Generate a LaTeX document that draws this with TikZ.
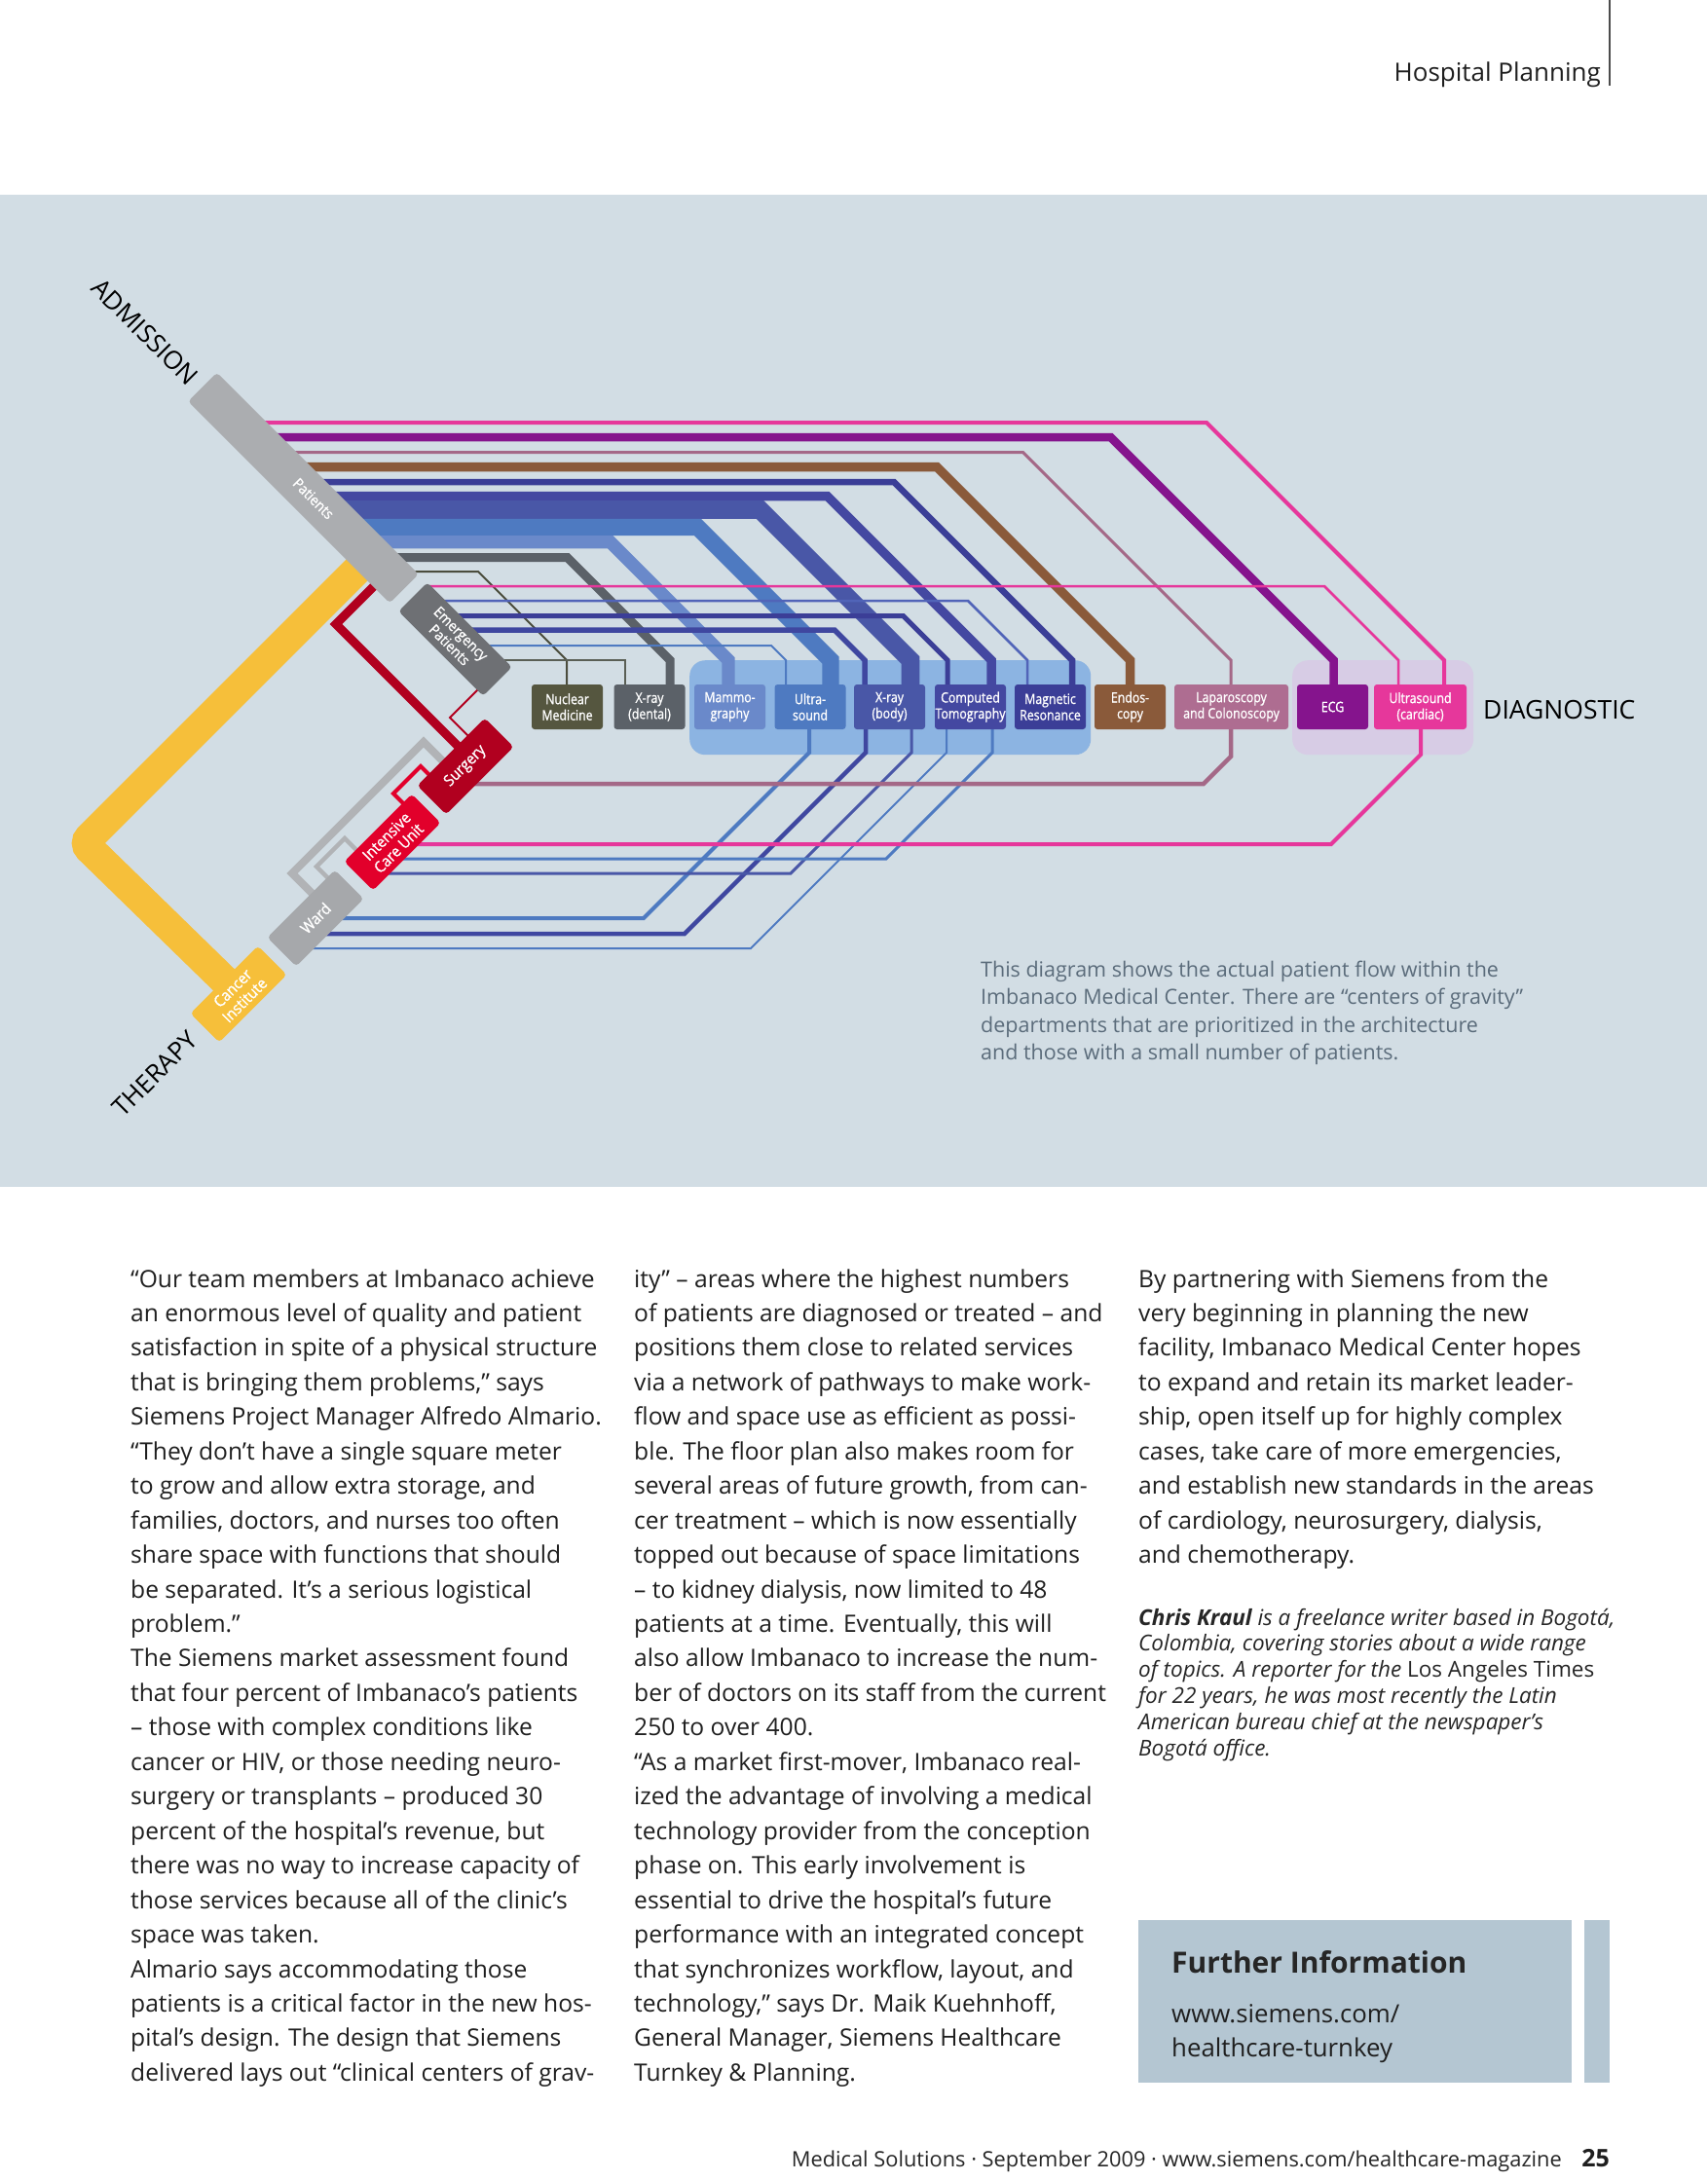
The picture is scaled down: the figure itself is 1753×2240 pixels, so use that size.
\documentclass[tikz,border=0pt]{standalone}
\usepackage{fontspec}
\setmainfont{Open Sans}
\newfontfamily\lblfont[FakeStretch=0.85,FakeBold=1]{Open Sans}
\newfontfamily\rlblfont[FakeStretch=0.92,FakeBold=1]{Open Sans}
\pgfdeclarelayer{back}
\pgfdeclarelayer{lines}
\pgfsetlayers{back,lines,main}
\definecolor{bgband}{HTML}{D2DDE4}
\definecolor{grpblue}{HTML}{8CB4E2}
\definecolor{grppurple}{HTML}{D7CCE5}
\definecolor{cPat}{HTML}{ABADB0}
\definecolor{cEmg}{HTML}{6E7074}
\definecolor{cNuc}{HTML}{55563F}
\definecolor{cNucL}{HTML}{4B4D3D}
\definecolor{cXd}{HTML}{5B6168}
\definecolor{cMam}{HTML}{6A89CA}
\definecolor{cUS}{HTML}{4E7AC1}
\definecolor{cXb}{HTML}{4957A7}
\definecolor{cXbd}{HTML}{3F47A0}
\definecolor{cCT}{HTML}{4448A1}
\definecolor{cMR}{HTML}{3B3E97}
\definecolor{cMRl}{HTML}{5164B8}
\definecolor{cEndo}{HTML}{8A5A3A}
\definecolor{cLap}{HTML}{AE6D91}
\definecolor{cLapL}{HTML}{A46887}
\definecolor{cECG}{HTML}{85148D}
\definecolor{cUSc}{HTML}{E6379B}
\definecolor{cSurg}{HTML}{B1001F}
\definecolor{cICU}{HTML}{E2002B}
\definecolor{cWard}{HTML}{A6A8AB}
\definecolor{cGrayL}{HTML}{B1B3B6}
\definecolor{cYel}{HTML}{F6BF3A}
\definecolor{cInfo}{HTML}{B4C6D2}
\definecolor{cCap}{HTML}{5B6C7B}
\definecolor{cEmL}{HTML}{5A5F55}
% upper flow: color, width, y_h, x_v, target, start x
\newcommand\flowU[6]{\draw[#1,line width=#2] (#6,#3) -- ({#4-678+#3},#3) -- (#4,678) -- (#4,0 |- #5.north);}
% lower flow: color, width, x_v, y_h, source, y_start
\newcommand\flowL[6]{\draw[#1,line width=#2] (#3,0 |- #5.south) -- (#3,#6) -- ({#3-#4+#6},#4) -- ({1280-#4},#4);}
\begin{document}
\begin{tikzpicture}[x=1pt,y=-1pt,
  dbox/.style={rectangle,rounded corners=3pt,minimum height=46pt,inner sep=0pt,text=white,align=center,font=\lblfont\fontsize{14.5}{16.5}\selectfont},
  lbox/.style={rectangle,rounded corners=4pt,minimum height=42pt,minimum width=98pt,inner sep=0pt,text=white,align=center,font=\rlblfont\fontsize{16}{17.5}\selectfont},
  bodytxt/.style={inner sep=0pt,anchor=base west,font=\fontsize{24.6}{29}\selectfont,text=black!88},
  authtxt/.style={inner sep=0pt,anchor=base west,font=\fontsize{22.5}{26}\selectfont\itshape,text=black!85},
  captxt/.style={inner sep=0pt,anchor=base west,font=\fontsize{21.5}{25}\selectfont,text=cCap},
  headtxt/.style={inner sep=0pt,font=\fontsize{26}{30}\selectfont,text=black}]
\useasboundingbox (0,0) rectangle (1753,2240);
\begin{pgfonlayer}{back}
\fill[white] (0,0) rectangle (1753,2240);
\fill[bgband] (0,200) rectangle (1753,1219);
\node[fill=grpblue,rounded corners=16pt,minimum width=412pt,minimum height=97pt,inner sep=0pt,anchor=north west] (gblue) at (708,678) {};
\node[fill=grppurple,rounded corners=16pt,minimum width=186pt,minimum height=97pt,inner sep=0pt,anchor=north west] (gpurp) at (1327,678) {};
\end{pgfonlayer}

% header and footer
\node[inner sep=0pt,anchor=base east,font=\fontsize{26}{30}\selectfont,text=black!88] (hdr) at (1644,84) {Hospital Planning};
\draw[black!70,line width=1.3pt] (1653,0) -- (1653,88);
\node[inner sep=0pt,anchor=base east,font=\fontsize{21.8}{25}\selectfont,text=black!85] (ftr) at (1604,2225) {Medical Solutions · September 2009 · www.siemens.com/healthcare-magazine};
\node[inner sep=0pt,anchor=base east,font=\fontsize{25}{28}\selectfont\bfseries,text=black!88] (pg) at (1653,2225) {25};

% diagnostic boxes
\node[dbox,fill=cNuc,minimum width=73pt] (nuc) at (582.5,726) {Nuclear\\Medicine};
\node[dbox,fill=cXd,minimum width=73pt] (xd) at (667,726) {X-ray\\(dental)};
\node[dbox,fill=cMam,minimum width=73pt] (mam) at (749.5,726) {Mammo-\\graphy};
\node[dbox,fill=cUS,minimum width=73pt] (us) at (832,726) {Ultra-\\sound};
\node[dbox,fill=cXb,minimum width=73pt] (xb) at (913.5,726) {X-ray\\(body)};
\node[dbox,fill=cCT,minimum width=73pt] (ct) at (996.5,726) {Computed\\Tomography};
\node[dbox,fill=cMR,minimum width=73pt] (mr) at (1078.5,726) {Magnetic\\Resonance};
\node[dbox,fill=cEndo,minimum width=73pt] (endo) at (1160.5,726) {Endos-\\copy};
\node[dbox,fill=cLap,minimum width=117pt] (lap) at (1264.5,726) {Laparoscopy\\and Colonoscopy};
\node[dbox,fill=cECG,minimum width=73pt] (ecg) at (1368.5,726) {ECG};
\node[dbox,fill=cUSc,minimum width=95pt] (usc) at (1458.5,726) {Ultrasound\\(cardiac)};
\node[headtxt,anchor=base west,font=\fontsize{26.5}{30}\selectfont] (diag) at (1523,738) {DIAGNOSTIC};

% admission / therapy side
\node[lbox,fill=cPat,minimum width=293pt,rotate=-45] (pat) at (311.5,501) {};
\node[inner sep=0pt,text=white,font=\rlblfont\fontsize{15}{17}\selectfont,rotate=-45] (patlbl) at (322,512) {Patients};
\node[lbox,fill=cEmg,minimum width=123pt,rotate=-45,font=\rlblfont\fontsize{15}{16.5}\selectfont] (emg) at (467.5,656.5) {Emergency\\Patients};
\node[lbox,fill=cSurg,rotate=45] (surg) at (478,787) {Surgery};
\node[lbox,fill=cICU,rotate=45] (icu) at (403,865) {Intensive\\Care Unit};
\node[lbox,fill=cWard,rotate=45] (ward) at (324,943) {Ward};
\node[lbox,fill=cYel,rotate=45] (can) at (245,1021) {Cancer\\Institute};
\node[headtxt,rotate=-45] (adm) at (149,341) {ADMISSION};
\node[headtxt,rotate=45] (ther) at (159,1103) {THERAPY};

\begin{pgfonlayer}{lines}
% therapy links under the boxes
\draw[cYel,line width=31pt,rounded corners=8pt] (383,569) -- (86,866) -- (can.center);
\draw[cSurg,line width=9pt] (392,594) -- (345,641) -- (475,771);
% patients -> diagnostics
\flowU{cUSc}{4pt}{434}{1483}{usc}{244}
\flowU{cECG}{8.5pt}{449}{1369.5}{ecg}{259}
\flowU{cLapL}{3pt}{464.5}{1264}{lap}{274}
\flowU{cEndo}{9.5pt}{479.7}{1160.5}{endo}{290}
\flowU{cMR}{6.5pt}{495}{1101}{mr}{305}
\flowU{cCT}{9.5pt}{509.7}{1018}{ct}{320}
\flowU{cXb}{18.7pt}{523.4}{935}{xb}{333}
\flowU{cUS}{17.3pt}{541.4}{853}{us}{351}
\flowU{cMam}{13.3pt}{556.7}{748}{mam}{367}
\flowU{cXd}{9pt}{572.5}{688}{xd}{383}
\flowU{cNucL}{2pt}{587}{582}{nuc}{400}
% emergency -> diagnostics
\flowU{cUSc}{2.5pt}{602}{1436}{usc}{440}
\flowU{cMRl}{2.5pt}{617}{1055}{mr}{454}
\flowU{cMR}{5pt}{632.5}{973}{ct}{468}
\flowU{cXbd}{5.5pt}{647}{888}{xb}{482}
\flowU{cUS}{2pt}{663}{807}{us}{498}
\draw[cEmL,line width=2pt] (514,678) -- (642,678) -- (642,0 |- xd.north);
% diagnostics -> therapy
\flowL{cUS}{4pt}{831}{943}{us}{773}
\flowL{cXbd}{4.5pt}{889}{959}{xb}{773}
\flowL{cXb}{3pt}{936}{897}{xb}{773}
\flowL{cUS}{3pt}{1019}{882}{ct}{773}
\flowL{cUS}{2pt}{972}{974}{ct}{773}
\flowL{cLapL}{4.5pt}{1264}{805}{lap}{777}
\flowL{cUSc}{4pt}{1459}{867}{usc}{775}
% links between therapy units
\draw[cSurg,line width=2pt] (497,702) -- (462,737) -- (488,763);
\draw[cGrayL,line width=8pt] (326,923) -- (300,897) -- (435,762) -- (458,785);
\draw[cGrayL,line width=4.5pt] (340,905) -- (325,890) -- (354,861) -- (368,875);
\draw[cICU,line width=4pt] (416,827) -- (404,815) -- (432,787) -- (445,800);
\end{pgfonlayer}

% caption
\foreach \t [count=\i from 0] in {{This diagram shows the actual patient flow within the},{Imbanaco Medical Center. There are “centers of gravity”},{departments that are prioritized in the architecture},{and those with a small number of patients.}}
  \node[captxt] at (1007,{1003+28.6*\i}) {\t};

% body columns
\foreach \t [count=\i from 0] in {{“Our team members at Imbanaco achieve},{an enormous level of quality and patient},{satisfaction in spite of a physical structure},{that is bringing them problems,” says},{Siemens Project Manager Alfredo Almario.},{“They don’t have a single square meter},{to grow and allow extra storage, and},{families, doctors, and nurses too often},{share space with functions that should},{be separated. It’s a serious logistical},{problem.”},{The Siemens market assessment found},{that four percent of Imbanaco’s patients},{– those with complex conditions like},{cancer or HIV, or those needing neuro-},{surgery or transplants – produced 30},{percent of the hospital’s revenue, but},{there was no way to increase capacity of},{those services because all of the clinic’s},{space was taken.},{Almario says accommodating those},{patients is a critical factor in the new hos-},{pital’s design. The design that Siemens},{delivered lays out “clinical centers of grav-}}
  \node[bodytxt] at (134,{1322+35.45*\i}) {\t};
\foreach \t [count=\i from 0] in {{ity” – areas where the highest numbers},{of patients are diagnosed or treated – and},{positions them close to related services},{via a network of pathways to make work-},{flow and space use as efficient as possi-},{ble. The floor plan also makes room for},{several areas of future growth, from can-},{cer treatment – which is now essentially},{topped out because of space limitations},{– to kidney dialysis, now limited to 48},{patients at a time. Eventually, this will},{also allow Imbanaco to increase the num-},{ber of doctors on its staff from the current},{250 to over 400.},{“As a market first-mover, Imbanaco real-},{ized the advantage of involving a medical},{technology provider from the conception},{phase on. This early involvement is},{essential to drive the hospital’s future},{performance with an integrated concept},{that synchronizes workflow, layout, and},{technology,” says Dr. Maik Kuehnhoff,},{General Manager, Siemens Healthcare},{Turnkey \& Planning.}}
  \node[bodytxt] at (651,{1322+35.45*\i}) {\t};
\foreach \t [count=\i from 0] in {{By partnering with Siemens from the},{very beginning in planning the new},{facility, Imbanaco Medical Center hopes},{to expand and retain its market leader-},{ship, open itself up for highly complex},{cases, take care of more emergencies,},{and establish new standards in the areas},{of cardiology, neurosurgery, dialysis,},{and chemotherapy.}}
  \node[bodytxt] at (1169,{1322+35.45*\i}) {\t};
\foreach \t [count=\i from 0] in {{{\bfseries Chris Kraul} is a freelance writer based in Bogotá,},{Colombia, covering stories about a wide range},{of topics. A reporter for the {\upshape Los Angeles Times}},{for 22 years, he was most recently the Latin},{American bureau chief at the newspaper’s},{Bogotá office.}}
  \node[authtxt] at (1169,{1669+26.8*\i}) {\t};

% further information box
\node[fill=cInfo,minimum width=445pt,minimum height=167pt,inner sep=0pt,anchor=north west] (info) at (1169,1972) {};
\node[fill=cInfo,minimum width=26pt,minimum height=167pt,inner sep=0pt,anchor=north west] (strip) at (1627,1972) {};
\node[inner sep=0pt,anchor=base west,font=\fontsize{30}{34}\selectfont\bfseries,text=black!85] (fi) at (1203,2026) {Further Information};
\node[inner sep=0pt,anchor=base west,font=\fontsize{25.8}{30}\selectfont,text=black!88] (url1) at (1203,2077) {www.siemens.com/};
\node[inner sep=0pt,anchor=base west,font=\fontsize{25.8}{30}\selectfont,text=black!88] (url2) at (1203,2112) {healthcare-turnkey};
\end{tikzpicture}
\end{document}
